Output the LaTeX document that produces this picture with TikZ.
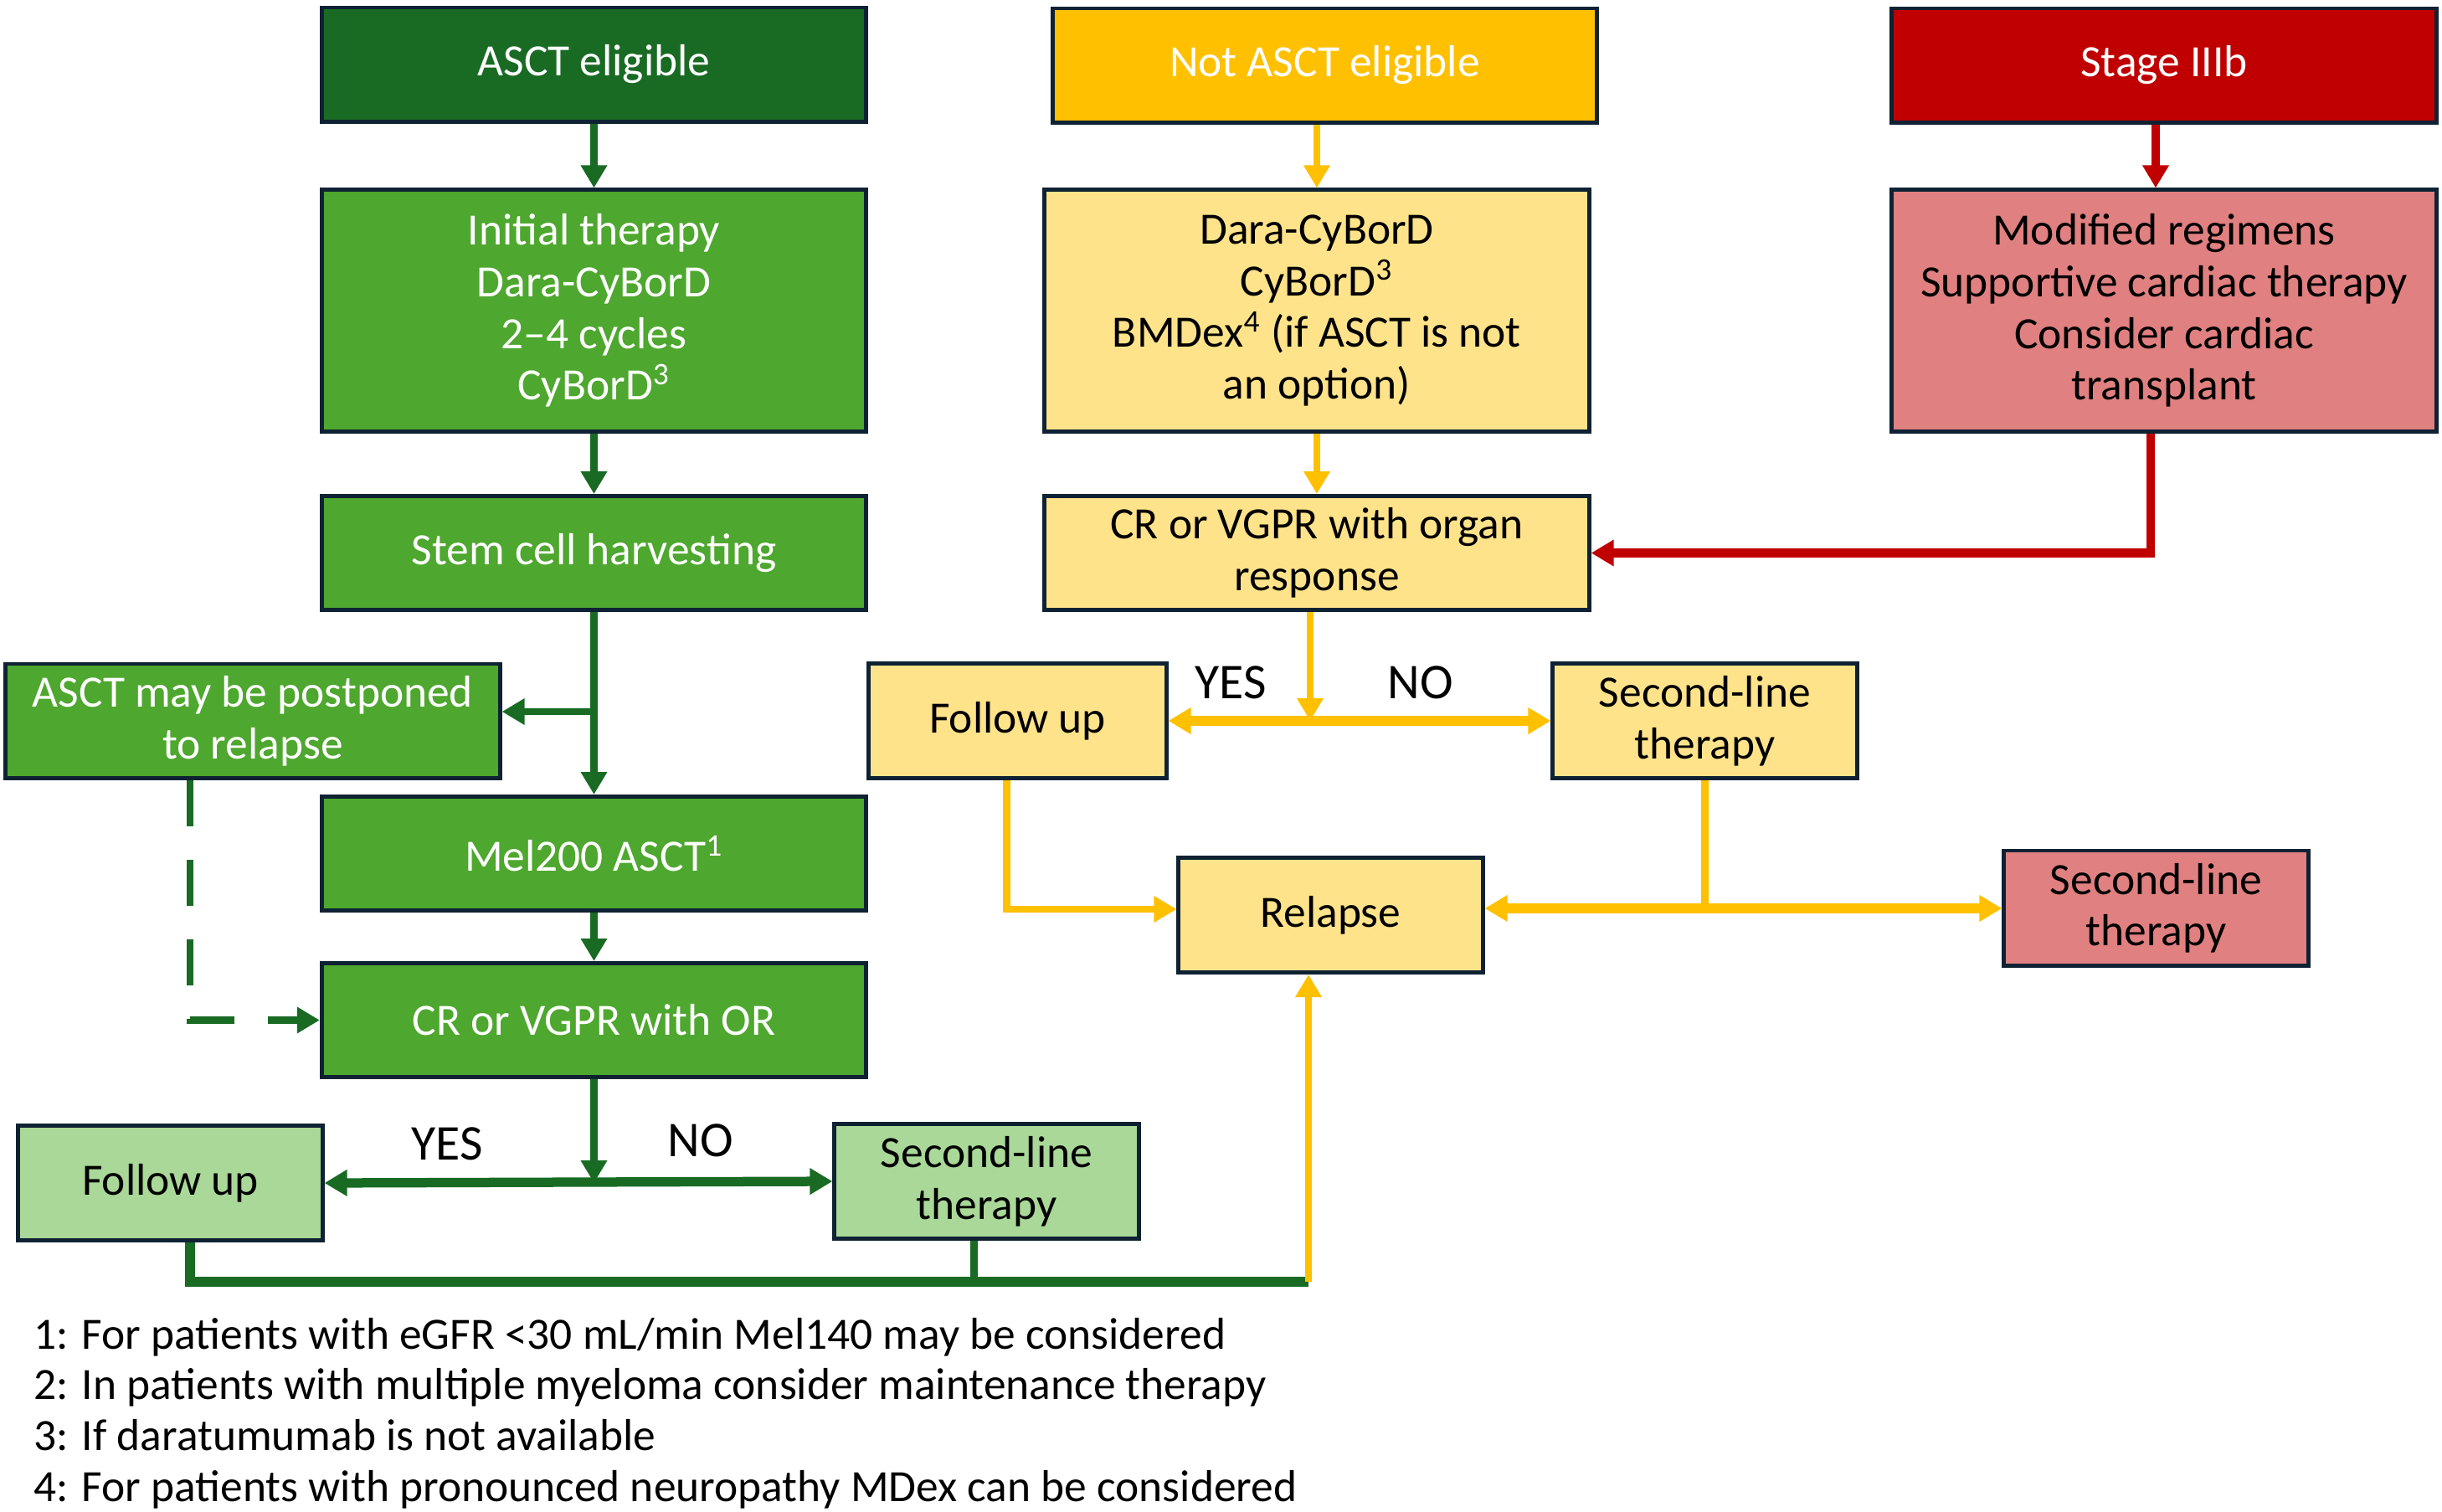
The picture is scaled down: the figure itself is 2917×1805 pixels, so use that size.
\documentclass[tikz,border=0pt]{standalone}
\usepackage{fontspec}
\setmainfont{Carlito}
\usepackage{xcolor}
\usepackage{tikz}
\usetikzlibrary{arrows.meta}

\definecolor{edge}{HTML}{0E2233}
\definecolor{hdgreen}{HTML}{196B24}
\definecolor{midgreen}{HTML}{4EA72E}
\definecolor{palegreen}{HTML}{A9D898}
\definecolor{hdyellow}{HTML}{FFC000}
\definecolor{paleyellow}{HTML}{FFE38A}
\definecolor{hdred}{HTML}{C00000}
\definecolor{palered}{HTML}{E08080}

\begin{document}
\begin{tikzpicture}[x=0.01cm,y=-0.01cm,
  >={Triangle[length=0.27cm,width=0.3cm]},
  txt/.style={font=\fontsize{15.2pt}{17.5pt}\selectfont},
  yesno/.style={font=\fontsize{17pt}{19pt}\selectfont},
  box/.style={txt,draw=edge,line width=1.4pt,inner sep=0pt,align=center},
  big/.style={box,minimum width=6.5cm,minimum height=1.36cm},
  tall/.style={box,minimum width=6.5cm,minimum height=2.88cm},
  small/.style={box,minimum width=3.63cm,minimum height=1.37cm},
  gline/.style={hdgreen,line width=2.4pt},
  yline/.style={hdyellow,line width=2.3pt},
  rline/.style={hdred,line width=3pt}]
\useasboundingbox (0,0) rectangle (2917,1805);

% left column
\node[big,fill=hdgreen,text=white] (asct) at (709.5,77) {ASCT eligible};
\node[tall,fill=midgreen,text=white] (init) at (709.5,371)
  {Initial therapy\\Dara-CyBorD\\2--4 cycles\\CyBorD\textsuperscript{3}};
\node[big,fill=midgreen,text=white] (stem) at (709.5,660.5) {Stem cell harvesting};
\node[box,minimum width=5.9cm,minimum height=1.36cm,fill=midgreen,text=white] (post) at (302,861)
  {ASCT may be postponed\\to relapse};
\node[big,fill=midgreen,text=white] (mel) at (709.5,1019.5) {Mel200 ASCT\textsuperscript{1}};
\node[big,fill=midgreen,text=white] (crvg) at (709.5,1218.5) {CR or VGPR with OR};
\node[small,fill=palegreen] (fug) at (203.5,1413) {Follow up};
\node[small,fill=palegreen] (slg) at (1178.5,1411) {Second-line\\therapy};

% middle column
\node[big,fill=hdyellow,text=white] (nasct) at (1582.5,78) {Not ASCT eligible};
\node[tall,fill=paleyellow] (dara) at (1573,371)
  {Dara-CyBorD\\CyBorD\textsuperscript{3}\\BMDex\textsuperscript{4} (if ASCT is not\\an option)};
\node[big,fill=paleyellow] (crorg) at (1573,660.5) {CR or VGPR with organ\\response};
\node[small,minimum width=3.55cm,fill=paleyellow] (fuy) at (1215.5,861) {Follow up};
\node[small,fill=paleyellow] (sly) at (2036.5,861) {Second-line\\therapy};
\node[small,fill=paleyellow] (rel) at (1589.5,1093) {Relapse};
\node[small,fill=palered] (slr) at (2575.5,1084.5) {Second-line\\therapy};

% right column
\node[big,fill=hdred,text=white] (stage) at (2585,78) {Stage IIIb};
\node[tall,fill=palered] (modreg) at (2585,371)
  {Modified regimens\\Supportive cardiac therapy\\Consider cardiac\\transplant};

% green arrows
\draw[gline,->] (asct) -- (init);
\draw[gline,->] (init) -- (stem);
\draw[gline,->] (stem) -- (mel);
\coordinate (pj) at (709.5,850);
\draw[gline,->] (pj) -- (pj -| post.east);
\draw[gline,->] (mel) -- (crvg);
\draw[gline,->,dash pattern=on 0.55cm off 0.4cm] ([xshift=-0.75cm]post.south) |- (crvg.west);
\draw[gline,->] (crvg.south) -- (crvg.south |- fug.east);
\draw[gline,line width=3.2pt,<->] (fug.east) -- (slg.west);
\node[yesno] (gyes) at (534,1366) {YES};
\node[yesno] (gno) at (837,1362) {NO};
\coordinate (gend) at (1563,1531);
\draw[gline,line width=3.4pt] ([xshift=0.235cm]fug.south) |- (gend);
\draw[gline] ([xshift=-0.15cm]slg.south) -- ([xshift=-0.15cm]slg.south |- gend);

% yellow arrows
\draw[yline,->] (nasct.south -| dara.north) -- (dara.north);
\draw[yline,->] (dara) -- (crorg);
\draw[yline,->] ([xshift=-0.08cm]crorg.south) -- ([xshift=-0.08cm]crorg.south |- fuy.east);
\draw[yline,line width=3.4pt,<->] (fuy.east) -- (sly.west);
\node[yesno] (yyes) at (1470,815) {YES};
\node[yesno] (yno) at (1697,815) {NO};
\draw[yline,->] ([xshift=-0.13cm]fuy.south) |- ([yshift=0.07cm]rel.west);
\coordinate (yj) at (2036.5,1085);
\draw[yline] (sly.south) -- (yj);
\draw[yline,line width=3.4pt,->] (yj) -- (yj -| rel.east);
\draw[yline,line width=3.4pt,->] (yj) -- (yj -| slr.west);
\draw[yline,->] (gend) -- (gend |- rel.south);

% red arrows
\draw[rline,->] (stage.south -| 2575,0) -- (modreg.north -| 2575,0);
\draw[rline,->] ([xshift=-0.16cm]modreg.south) |- (crorg.east);

% notes
\node[txt,anchor=west,align=left,font=\fontsize{15.2pt}{17.3pt}\selectfont] (notes) at (28,1688)
  {1: For patients with eGFR <30 mL/min Mel140 may be considered\\
   2: In patients with multiple myeloma consider maintenance therapy\\
   3: If daratumumab is not available\\
   4: For patients with pronounced neuropathy MDex can be considered};
\end{tikzpicture}
\end{document}
